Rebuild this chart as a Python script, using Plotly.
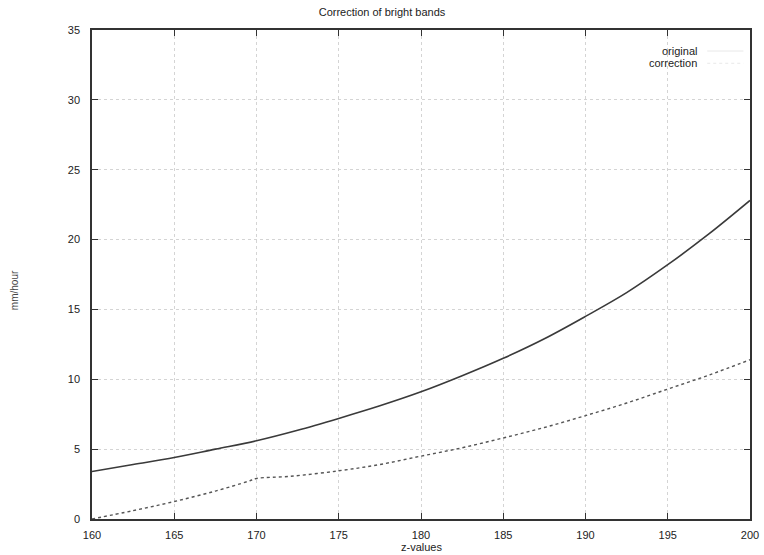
import plotly.graph_objects as go

z_values = [160, 162.5, 165, 167.5, 170, 172.5, 175, 177.5, 180, 182.5, 185, 187.5, 190, 192.5, 195, 197.5, 200]
original = [3.4, 3.9, 4.4, 5.0, 5.6, 6.35, 7.2, 8.1, 9.1, 10.25, 11.5, 12.9, 14.5, 16.2, 18.2, 20.4, 22.8]

corr_x = [160, 162.5, 165, 167.5, 169.5, 170, 172, 175, 177.5, 180, 182.5, 185, 187.5, 190, 192.5, 195, 197.5, 200]
correction = [0.0, 0.6, 1.25, 2.0, 2.7, 2.9, 3.05, 3.45, 3.9, 4.5, 5.1, 5.8, 6.55, 7.4, 8.3, 9.3, 10.3, 11.4]

x_ticks = [160, 165, 170, 175, 180, 185, 190, 195, 200]
y_ticks = [0, 5, 10, 15, 20, 25, 30, 35]

FONT = "Liberation Sans, Arial, sans-serif"

fig = go.Figure()
fig.add_trace(go.Scatter(x=z_values, y=original, mode="lines", name="original",
                         line=dict(color="#3a3a3a", width=1.6, shape="spline"),
                         showlegend=False))
fig.add_trace(go.Scatter(x=corr_x, y=correction, mode="lines", name="correction",
                         line=dict(color="#555555", width=1.4, dash="dot", shape="spline"),
                         showlegend=False))

# legend texts (gnuplot style, right aligned)
fig.add_annotation(x=0.9225, y=0.957, xref="paper", yref="paper", text="original",
                   showarrow=False, xanchor="right", yanchor="middle",
                   font=dict(family=FONT, size=11, color="#222"))
fig.add_annotation(x=0.9225, y=0.932, xref="paper", yref="paper", text="correction",
                   showarrow=False, xanchor="right", yanchor="middle",
                   font=dict(family=FONT, size=11, color="#222"))
fig.add_shape(type="line", xref="paper", yref="paper", x0=0.935, x1=0.99, y0=0.957, y1=0.957,
              line=dict(color="#e8e8e8", width=1))
fig.add_shape(type="line", xref="paper", yref="paper", x0=0.935, x1=0.99, y0=0.932, y1=0.932,
              line=dict(color="#e8e8e8", width=1, dash="dot"))

# axis titles
fig.add_annotation(x=-0.1185, y=0.468, xref="paper", yref="paper", text="mm/hour",
                   showarrow=False, textangle=-90, xanchor="center", yanchor="middle",
                   font=dict(family=FONT, size=10, color="#444"))
fig.add_annotation(x=0.5, y=-0.057, xref="paper", yref="paper", text="z-values",
                   showarrow=False, xanchor="center", yanchor="middle",
                   font=dict(family=FONT, size=11, color="#222"))

axis_common = dict(showline=True, linecolor="#333", linewidth=1.5, mirror="ticks",
                   ticks="inside", ticklen=6, tickcolor="#333", showgrid=True,
                   gridcolor="#d4d4d4", griddash="dot", gridwidth=1, zeroline=False,
                   automargin=False,
                   tickfont=dict(family=FONT, size=11, color="#222"))

fig.update_xaxes(range=[160, 200], tickvals=x_ticks, ticktext=[str(v) for v in x_ticks],
                 ticklabelstandoff=5, **axis_common)
fig.update_yaxes(range=[0, 35], tickvals=y_ticks, ticktext=[str(v) for v in y_ticks],
                 ticklabelstandoff=8, **axis_common)

fig.update_layout(
    width=764, height=555,
    margin=dict(l=92, r=14, t=30, b=36),
    paper_bgcolor="white", plot_bgcolor="white",
    title=dict(text="Correction of bright bands", x=0.5, xanchor="center", y=0.985, yanchor="top",
               font=dict(family=FONT, size=11, color="#222")),
)

fig.write_html("out.html", config={"displayModeBar": False},
               post_script="document.body.style.margin='0';")
